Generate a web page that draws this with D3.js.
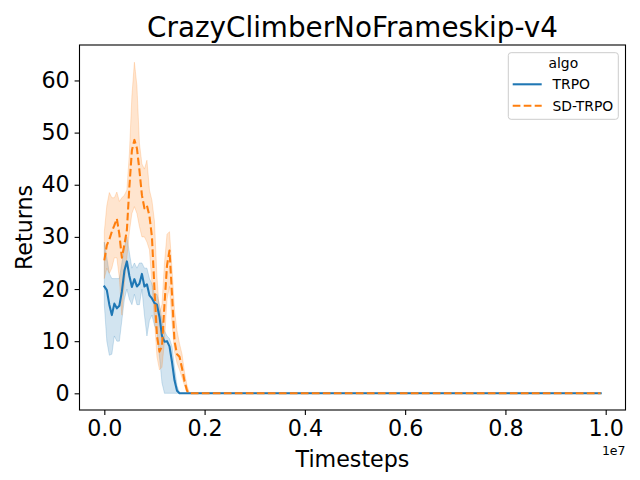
<!DOCTYPE html>
<html>
<head>
<meta charset="utf-8">
<script src="https://cdn.jsdelivr.net/npm/d3@7"></script>
<style>
  body { margin: 0; background: #ffffff; }
  svg { display: block; font-family: "DejaVu Sans", sans-serif; }
</style>
</head>
<body>
<svg id="chart" width="640" height="480"></svg>
<script>
const titleText = "CrazyClimberNoFrameskip-v4";
const seriesNames = ["TRPO", "SD-TRPO"];
const timesteps = [0, 50000, 100000, 150000, 200000, 250000, 300000, 350000, 400000, 450000,
  500000, 550000, 600000, 650000, 700000, 750000, 800000, 850000, 900000, 950000,
  1000000, 1050000, 1100000, 1150000, 1200000, 1250000, 1300000, 1350000, 1400000, 1450000,
  1500000, 1550000, 1600000, 1650000, 1700000,
  2000000, 3000000, 4000000, 5000000, 6000000, 7000000, 8000000, 9000000, 9900000];
const trpoMean = [20.5, 19.8, 17.0, 15.0, 17.2, 16.3, 16.8, 19.5, 23.5, 25.3,
  22.5, 20.4, 21.9, 20.5, 21.0, 22.9, 20.5, 20.9, 18.8, 18.2,
  17.3, 17.0, 14.7, 11.0, 9.9, 10.0, 9.0, 6.0, 2.5, 0.5,
  0, 0, 0, 0, 0,
  0, 0, 0, 0, 0, 0, 0, 0, 0];
const trpoUpper = [29, 26, 23, 22, 22, 22, 22, 25, 28, 30,
  27, 24, 25, 24, 25, 25, 24, 24, 22, 21,
  19, 19, 17, 14, 12, 11, 10.5, 9, 5, 1.5,
  0, 0, 0, 0, 0,
  0, 0, 0, 0, 0, 0, 0, 0, 0];
const trpoLower = [17, 10, 7.3, 7.5, 11, 10, 10, 14, 18, 20,
  18, 17, 19, 17, 17, 20, 15, 11, 14, 15,
  13, 12, 7, 2, 0, 0, 0, 0, 0, 0,
  0, 0, 0, 0, 0,
  0, 0, 0, 0, 0, 0, 0, 0, 0];
const sdMean = [25.5, 28.4, 29.5, 31, 32.2, 33.5, 30.5, 26, 28.5, 31.3,
  39.6, 46.6, 48.6, 47, 42.8, 38, 35.5, 36, 34, 30,
  20, 11, 8, 9, 17, 24.5, 27.4, 19, 10, 7.5,
  7, 4.8, 2.3, 0.5, 0,
  0, 0, 0, 0, 0, 0, 0, 0, 0];
const sdUpper = [31, 36, 38.5, 37.5, 37.5, 38.6, 36.8, 37.5, 38, 39,
  46, 57, 63.5, 59, 48, 44, 43, 44.7, 39, 37,
  33, 22.4, 15.5, 17, 25, 30.5, 31, 24, 16, 12,
  9.5, 7.5, 4, 1.5, 0,
  0, 0, 0, 0, 0, 0, 0, 0, 0];
const sdLower = [22, 24, 23, 24, 26, 26, 22, 15, 21, 26,
  31, 34.5, 35.8, 34.5, 32, 30, 30, 29, 27.5, 21,
  14, 7, 4.5, 5, 10, 18, 20.5, 13.5, 8, 5.8,
  4.5, 3, 1.5, 0, 0,
  0, 0, 0, 0, 0, 0, 0, 0, 0];
const xTicks = [0, 2000000, 4000000, 6000000, 8000000, 10000000];
const xTickLabels = ["0.0", "0.2", "0.4", "0.6", "0.8", "1.0"];
const yTicks = [0, 10, 20, 30, 40, 50, 60];

const colors = ["#1f77b4", "#ff7f0e"];
const svg = d3.select("#chart");
const W = 640, H = 480;
const m = { left: 79.5, right: 625.5, top: 45, bottom: 410 };

svg.append("rect").attr("width", W).attr("height", H).attr("fill", "#fff");

const x = d3.scaleLinear().domain([-495000, 10395000]).range([m.left, m.right]);
const y = d3.scaleLinear().domain([-3.2, 66.8]).range([m.bottom, m.top]);

const series = [
  { name: seriesNames[0], mean: trpoMean, lo: trpoLower, hi: trpoUpper, color: colors[0], dash: null },
  { name: seriesNames[1], mean: sdMean, lo: sdLower, hi: sdUpper, color: colors[1], dash: "7.7,3.3" }
];

const plot = svg.append("g");
const area = d3.area()
  .x((d, i) => x(timesteps[i]))
  .y0(d => y(d[0]))
  .y1(d => y(d[1]));
const line = d3.line()
  .x((d, i) => x(timesteps[i]))
  .y(d => y(d));

series.forEach(s => {
  const pts = s.lo.map((v, i) => [v, s.hi[i]]);
  plot.append("path").datum(pts)
    .attr("d", area)
    .attr("fill", s.color).attr("fill-opacity", 0.2)
    .attr("stroke", s.color).attr("stroke-opacity", 0.2).attr("stroke-width", 1);
});
series.forEach(s => {
  plot.append("path").datum(s.mean)
    .attr("d", line)
    .attr("fill", "none")
    .attr("stroke", s.color)
    .attr("stroke-width", 2.08)
    .attr("stroke-dasharray", s.dash)
    .attr("stroke-linejoin", "round")
    .attr("stroke-linecap", s.dash ? "butt" : "square");
});

// Axes
const xAxis = d3.axisBottom(x).tickValues(xTicks).tickFormat((d, i) => xTickLabels[i])
  .tickSizeInner(4.9).tickSizeOuter(0).tickPadding(4.9);
const yAxis = d3.axisLeft(y).tickValues(yTicks).tickFormat(d3.format("d"))
  .tickSizeInner(4.9).tickSizeOuter(0).tickPadding(4.9);

const gx = svg.append("g").attr("transform", `translate(0,${m.bottom})`).call(xAxis);
const gy = svg.append("g").attr("transform", `translate(${m.left},0)`).call(yAxis);
[gx, gy].forEach(g => {
  g.select(".domain").remove();
  g.selectAll(".tick line").attr("stroke", "#000").attr("stroke-width", 1.1);
  g.selectAll(".tick text").attr("font-size", 22.2).attr("fill", "#000")
    .attr("font-family", "DejaVu Sans");
});

// Spines
svg.append("rect")
  .attr("x", m.left).attr("y", m.top)
  .attr("width", m.right - m.left).attr("height", m.bottom - m.top)
  .attr("fill", "none").attr("stroke", "#000").attr("stroke-width", 1.1);

// Texts
svg.append("text").attr("x", (m.left + m.right) / 2).attr("y", 37)
  .attr("text-anchor", "middle").attr("font-size", 27.8).text(titleText);
svg.append("text").attr("x", (m.left + m.right) / 2).attr("y", 467)
  .attr("text-anchor", "middle").attr("font-size", 22.2).text("Timesteps");
svg.append("text")
  .attr("transform", `translate(32,${(m.top + m.bottom) / 2}) rotate(-90)`)
  .attr("text-anchor", "middle").attr("font-size", 22.2).text("Returns");
svg.append("text").attr("x", m.right).attr("y", 455)
  .attr("text-anchor", "end").attr("font-size", 12.5).text("1e7");

// Legend
const lg = svg.append("g");
lg.append("rect").attr("x", 508.3).attr("y", 52.7).attr("width", 110).attr("height", 66.6)
  .attr("rx", 2.8).attr("fill", "#fff").attr("fill-opacity", 0.8)
  .attr("stroke", "#cccccc").attr("stroke-width", 1);
lg.append("text").attr("x", 563.3).attr("y", 68.3).attr("text-anchor", "middle")
  .attr("font-size", 13.9).text("algo");
const legendY = [84.3, 105.7];
series.forEach((s, i) => {
  lg.append("line").attr("x1", 512.7).attr("x2", 541.7)
    .attr("y1", legendY[i]).attr("y2", legendY[i])
    .attr("stroke", s.color).attr("stroke-width", 2.08)
    .attr("stroke-dasharray", s.dash);
  lg.append("text").attr("x", 552.5).attr("y", legendY[i] + 4.8)
    .attr("font-size", 13.9).text(s.name);
});
</script>
</body>
</html>
